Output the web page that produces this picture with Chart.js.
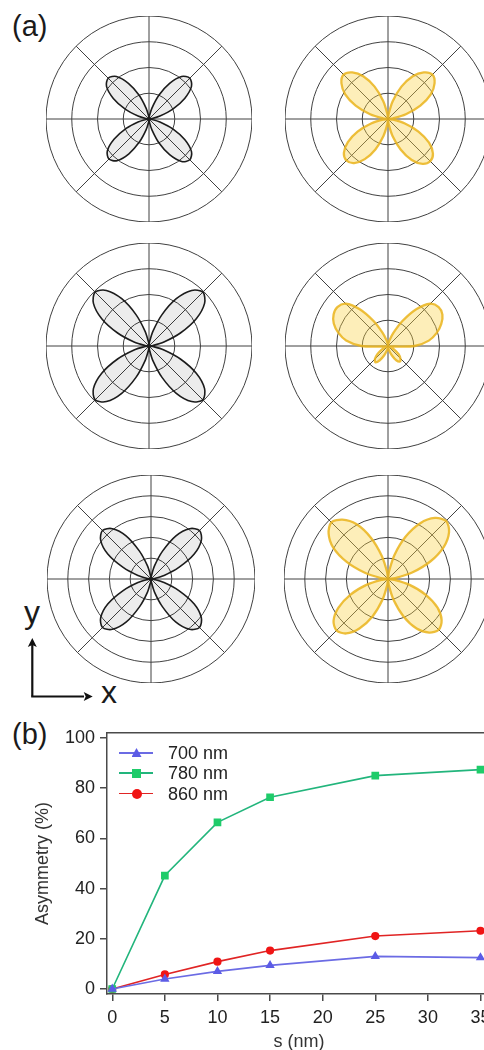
<!DOCTYPE html>
<html>
<head>
<meta charset="utf-8">
<script src="https://cdn.jsdelivr.net/npm/chart.js"></script>
<style>
html, body { margin: 0; padding: 0; background: #fff; }
body { width: 484px; height: 1050px; overflow: hidden; position: relative;
       font-family: "Liberation Sans", Arial, sans-serif; color: #222; }
.box { position: absolute; }
.lbl { position: absolute; line-height: 1; color: #1a1a1a; white-space: nowrap; }
.leg { position: absolute; left: 110px; width: 120px; height: 20px; }
.leg .ln { position: absolute; left: 9px; top: 9px; width: 34px; height: 1.5px; }
.leg .mk { position: absolute; }
.leg .tx { position: absolute; left: 58px; top: 0; line-height: 20px; font-size: 18px; color: #222; }
</style>
</head>
<body>

<div class="lbl" style="left:12px;top:12px;font-size:29px">(a)</div>
<div class="lbl" style="left:12px;top:720px;font-size:29px">(b)</div>
<div class="lbl" style="left:24px;top:596px;font-size:32px">y</div>
<div class="lbl" style="left:101px;top:676px;font-size:32px">x</div>

<svg class="box" style="left:0;top:630px" width="110" height="80">
  <line x1="32.3" y1="66.5" x2="32.3" y2="14" stroke="#111" stroke-width="2.2"/>
  <line x1="31.2" y1="66.5" x2="84" y2="66.5" stroke="#111" stroke-width="2.2"/>
  <polygon points="32.3,8 27.8,17 32.3,15 36.8,17" fill="#111"/>
  <polygon points="92.7,66.5 83.7,62 85.7,66.5 83.7,71" fill="#111"/>
</svg>

<div class="box" style="left:46px;top:16px;width:206px;height:206px"><canvas id="p1"></canvas></div>
<div class="box" style="left:285px;top:16px;width:206px;height:206px"><canvas id="p2"></canvas></div>
<div class="box" style="left:46px;top:243px;width:206px;height:206px"><canvas id="p3"></canvas></div>
<div class="box" style="left:285px;top:243px;width:206px;height:206px"><canvas id="p4"></canvas></div>
<div class="box" style="left:47px;top:475px;width:208px;height:208px"><canvas id="p5"></canvas></div>
<div class="box" style="left:284px;top:475px;width:208px;height:208px"><canvas id="p6"></canvas></div>

<div class="box" style="left:0;top:700px;width:520px;height:370px"><canvas id="chartB"></canvas></div>
<div id="legend"></div>

<script>
// polar angles, degrees clockwise from the top
const angles = [0, 7.5, 15, 22.5, 30, 37.5, 45, 52.5, 60, 67.5, 75, 82.5,
  90, 97.5, 105, 112.5, 120, 127.5, 135, 142.5, 150, 157.5, 165, 172.5,
  180, 187.5, 195, 202.5, 210, 217.5, 225, 232.5, 240, 247.5, 255, 262.5,
  270, 277.5, 285, 292.5, 300, 307.5, 315, 322.5, 330, 337.5, 345, 352.5];

// normalised radii (row 1..3, left black / right gold)
const row1Black = [0, .03, .11, .25, .40, .52, .56, .52, .40, .25, .11, .03,
  0, .03, .11, .25, .40, .52, .56, .52, .40, .25, .11, .03,
  0, .03, .11, .24, .39, .51, .55, .51, .39, .24, .11, .03,
  0, .03, .11, .25, .40, .52, .56, .52, .40, .25, .11, .03];
const row1Gold = [0, .05, .18, .34, .48, .57, .61, .57, .48, .34, .18, .05,
  0, .05, .17, .32, .46, .55, .58, .55, .46, .32, .17, .05,
  0, .05, .17, .32, .45, .54, .57, .54, .45, .32, .17, .05,
  0, .05, .18, .34, .48, .57, .61, .57, .48, .34, .18, .05];
const row2Black = [0, .04, .15, .33, .53, .68, .74, .68, .53, .33, .15, .04,
  0, .04, .15, .33, .53, .68, .74, .68, .53, .33, .15, .04,
  0, .04, .15, .33, .53, .68, .74, .68, .53, .33, .15, .04,
  0, .04, .15, .33, .53, .68, .74, .68, .53, .33, .15, .04];
const row2Gold = [0, .02, .06, .14, .28, .45, .58, .62, .61, .56, .49, .40,
  .26, .04, .02, .03, .07, .13, .17, .19, .16, .10, .05, .02,
  0, .02, .05, .10, .16, .20, .18, .13, .07, .03, .02, .04,
  .26, .41, .50, .57, .61, .62, .58, .45, .28, .14, .06, .02];
const row3Black = [0, .03, .13, .29, .48, .61, .66, .61, .48, .29, .13, .03,
  0, .03, .13, .29, .48, .61, .66, .61, .48, .29, .13, .03,
  0, .03, .13, .29, .48, .61, .66, .61, .48, .29, .13, .03,
  0, .03, .13, .29, .48, .61, .66, .61, .48, .29, .13, .03];
const row3Gold = [0, .07, .24, .44, .62, .74, .79, .74, .62, .44, .24, .07,
  0, .06, .21, .39, .55, .65, .69, .65, .55, .39, .21, .06,
  0, .06, .21, .39, .55, .66, .70, .66, .55, .39, .21, .06,
  0, .07, .23, .43, .61, .72, .77, .72, .61, .43, .23, .07];

// panel (b)
const sValues = [0, 5, 10, 15, 25, 35];
const asym700 = [0, 4.0, 7.0, 9.4, 13.0, 12.5];
const asym780 = [0, 45.2, 66.4, 76.4, 85.0, 87.4];
const asym860 = [0, 5.8, 10.9, 15.3, 21.1, 23.2];
const sTicks = [0, 5, 10, 15, 20, 25, 30, 35];
const asymTicks = [0, 20, 40, 60, 80, 100];

const FONT = '"Liberation Sans", Arial, sans-serif';
const BLACK = { line: '#1c1c1c', fill: 'rgba(0,0,0,0.075)', width: 1.6 };
const GOLD = { line: 'rgba(234,180,28,0.85)', fill: 'rgba(250,210,70,0.38)', width: 2.3 };
const polarGrid = '#404040';

function polar(id, values, step, look) {
  new Chart(document.getElementById(id), {
    type: 'radar',
    data: {
      labels: angles,
      datasets: [{
        data: values,
        borderColor: look.line,
        backgroundColor: look.fill,
        borderWidth: look.width,
        fill: true,
        tension: 0.3,
        pointRadius: 0,
        pointHitRadius: 0
      }]
    },
    options: {
      animation: false,
      responsive: true,
      maintainAspectRatio: false,
      events: [],
      layout: { padding: 0 },
      plugins: { legend: { display: false }, tooltip: { enabled: false } },
      scales: {
        r: {
          min: 0, max: 1,
          ticks: { display: false, stepSize: step },
          pointLabels: { display: false },
          grid: { circular: true, color: polarGrid, lineWidth: 1 },
          angleLines: { color: polarGrid, lineWidth: ctx => (ctx.index % 6 === 0 ? 1 : 0) }
        }
      }
    }
  });
}

polar('p1', row1Black, 0.25, BLACK);
polar('p2', row1Gold, 0.25, GOLD);
polar('p3', row2Black, 0.25, BLACK);
polar('p4', row2Gold, 0.25, GOLD);
polar('p5', row3Black, 0.2, BLACK);
polar('p6', row3Gold, 0.2, GOLD);

const series = [
  { label: '700 nm', values: asym700, line: '#6b6be4', mark: '#5c5ce6', style: 'triangle', r: 3.8 },
  { label: '780 nm', values: asym780, line: '#22b57c', mark: '#1fcc6a', style: 'rect', r: 4.3 },
  { label: '860 nm', values: asym860, line: '#e02424', mark: '#f01515', style: 'circle', r: 3.3 }
];

const axisGrey = '#4a4a4a';
const tickFont = { size: 18, family: FONT };

new Chart(document.getElementById('chartB'), {
  type: 'line',
  data: {
    datasets: series.map(s => ({
      label: s.label,
      data: sValues.map((x, i) => ({ x: x, y: s.values[i] })),
      borderColor: s.line,
      backgroundColor: s.mark,
      pointBorderColor: s.mark,
      pointBackgroundColor: s.mark,
      pointStyle: s.style,
      pointRadius: s.r,
      borderWidth: 1.6,
      tension: 0
    }))
  },
  options: {
    animation: false,
    responsive: true,
    maintainAspectRatio: false,
    events: [],
    layout: { padding: { top: 33, right: 29, left: 0, bottom: 0 } },
    plugins: { legend: { display: false }, tooltip: { enabled: false } },
    scales: {
      x: {
        type: 'linear', position: 'bottom', min: -0.5, max: 36,
        afterBuildTicks: sc => { sc.ticks = sTicks.map(v => ({ value: v })); },
        afterFit: sc => { sc.height = 76; },
        ticks: { color: '#222', font: tickFont, padding: 6, maxRotation: 0, autoSkip: false },
        grid: { drawOnChartArea: false, drawTicks: true, tickLength: 7, color: axisGrey, lineWidth: 1.5 },
        border: { color: axisGrey, width: 1.5 },
        title: { display: true, text: 's (nm)', color: '#333', font: tickFont, padding: { top: 0, bottom: 17 } }
      },
      y: {
        type: 'linear', position: 'left', min: -2, max: 102,
        afterBuildTicks: sc => { sc.ticks = asymTicks.map(v => ({ value: v })); },
        afterFit: sc => { sc.width = 107; },
        ticks: { color: '#222', font: tickFont, padding: 5 },
        grid: { drawOnChartArea: false, drawTicks: true, tickLength: 7, color: axisGrey, lineWidth: 1.5 },
        border: { color: axisGrey, width: 1.5 },
        title: { display: true, text: 'Asymmetry (%)', color: '#333', font: tickFont, padding: { top: 32, bottom: 0 } }
      },
      xTop: {
        type: 'linear', axis: 'x', position: 'top',
        ticks: { display: false }, grid: { display: false },
        border: { color: axisGrey, width: 1.5 },
        afterFit: sc => { sc.height = 0; }
      },
      yRight: {
        type: 'linear', axis: 'y', position: 'right',
        ticks: { display: false }, grid: { display: false },
        border: { color: axisGrey, width: 1.5 },
        afterFit: sc => { sc.width = 0; }
      }
    }
  }
});

// legend box inside the plot, built from the same series list
const legend = document.getElementById('legend');
const rowTops = [743, 763, 783.5];
series.forEach((s, i) => {
  const row = document.createElement('div');
  row.className = 'leg';
  row.style.top = rowTops[i] + 'px';
  const ln = document.createElement('div');
  ln.className = 'ln';
  ln.style.background = s.line;
  const mk = document.createElement('div');
  mk.className = 'mk';
  mk.style.background = s.mark;
  if (s.style === 'triangle') {
    Object.assign(mk.style, { left: '21.5px', top: '5px', width: '10px', height: '9px', clipPath: 'polygon(50% 0, 100% 100%, 0 100%)' });
  } else if (s.style === 'rect') {
    Object.assign(mk.style, { left: '22px', top: '5.5px', width: '9px', height: '9px' });
  } else {
    Object.assign(mk.style, { left: '21.5px', top: '5px', width: '10px', height: '10px', borderRadius: '50%' });
  }
  const tx = document.createElement('div');
  tx.className = 'tx';
  tx.textContent = s.label;
  row.appendChild(ln);
  row.appendChild(mk);
  row.appendChild(tx);
  legend.appendChild(row);
});
</script>
</body>
</html>
